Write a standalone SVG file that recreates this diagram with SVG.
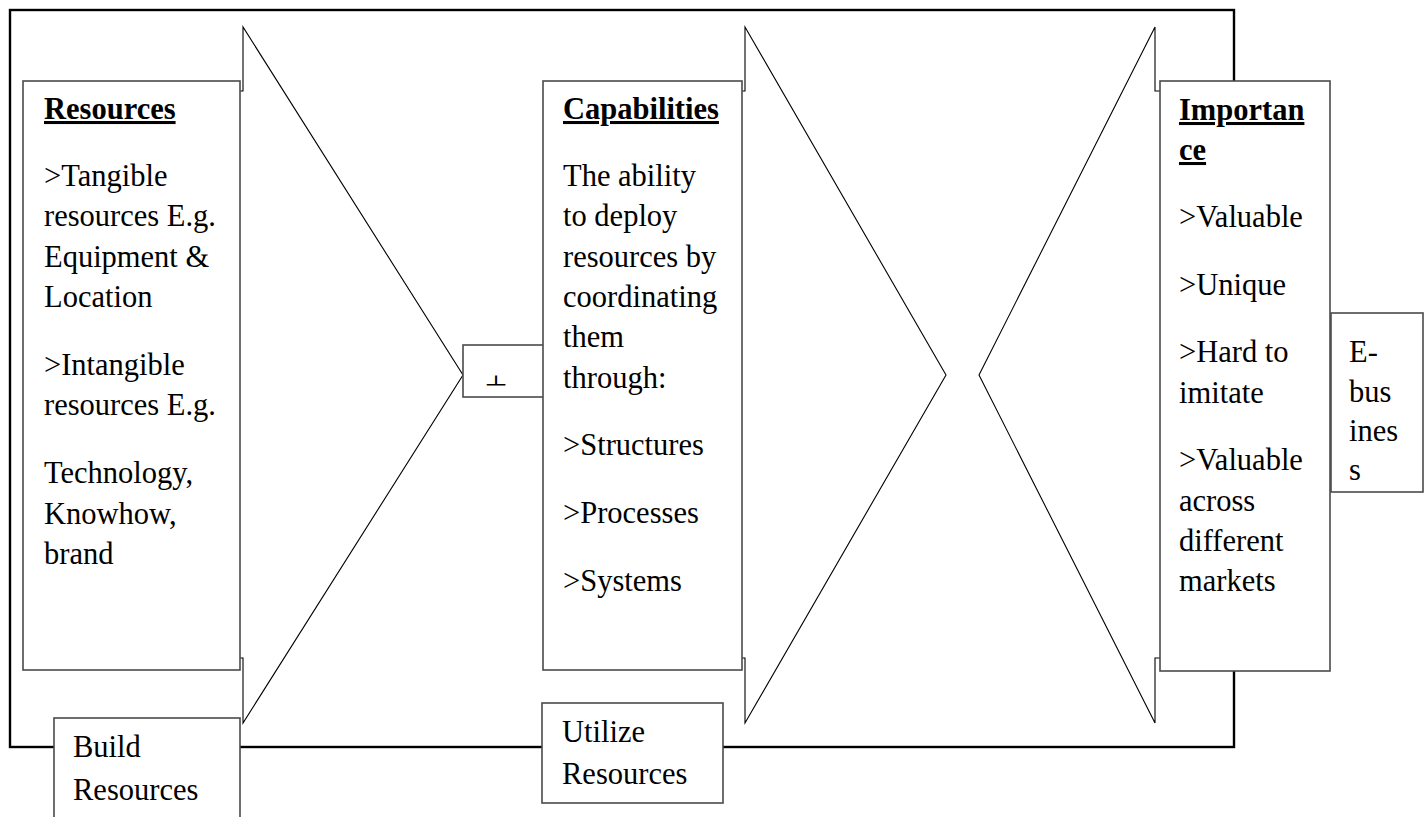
<svg xmlns="http://www.w3.org/2000/svg" width="1428" height="817" viewBox="0 0 1428 817">
<style>
  .box { fill: #ffffff; stroke: #4a4a4a; stroke-width: 1.6; }
  .arrow { fill: none; stroke: #000000; stroke-width: 1.1; }
  .frame { fill: none; stroke: #000000; stroke-width: 2.4; }
  .t { font-family: 'Liberation Serif', 'DejaVu Serif', serif; font-size: 30.5px; fill: #000000; }
  .title { font-weight: bold; text-decoration: underline; }
</style>
<defs>
  <clipPath id="plusClip"><rect x="470" y="360" width="60" height="25.5"/></clipPath>
</defs>
<rect width="1428" height="817" fill="#ffffff"/>

<g id="connectors">
  <rect class="frame" x="10" y="10" width="1224" height="737"/>
</g>

<g id="node-resources" class="t" font-family="Liberation Serif, serif">
  <path class="arrow" d="M240,91 H243 V27 L463,375 L243,723 V658 H240"/>
  <rect class="box" x="23" y="81" width="217" height="589"/>
  <text class="title" x="44" y="119">Resources</text>
  <text x="44" y="186">&gt;Tangible</text>
  <text x="44" y="226">resources E.g.</text>
  <text x="44" y="266.5">Equipment &amp;</text>
  <text x="44" y="307">Location</text>
  <text x="44" y="375">&gt;Intangible</text>
  <text x="44" y="415">resources E.g.</text>
  <text x="44" y="483">Technology,</text>
  <text x="44" y="523.5">Knowhow,</text>
  <text x="44" y="564">brand</text>
</g>

<g id="node-plus" class="t" font-family="Liberation Serif, serif">
  <rect class="box" x="463" y="345" width="81" height="52"/>
  <text x="496" y="398" text-anchor="middle" clip-path="url(#plusClip)" style="font-size:40px">+</text>
</g>

<g id="node-capabilities" class="t" font-family="Liberation Serif, serif">
  <path class="arrow" d="M742,91 H745 V27 L946,375 L745,723 V658 H742"/>
  <rect class="box" x="543" y="81" width="199" height="589"/>
  <text class="title" x="563" y="119">Capabilities</text>
  <text x="563" y="186">The ability</text>
  <text x="563" y="226">to deploy</text>
  <text x="563" y="266.5">resources by</text>
  <text x="563" y="307">coordinating</text>
  <text x="563" y="347">them</text>
  <text x="563" y="387.5">through:</text>
  <text x="563" y="455">&gt;Structures</text>
  <text x="563" y="523">&gt;Processes</text>
  <text x="563" y="591">&gt;Systems</text>
</g>

<g id="node-importance" class="t" font-family="Liberation Serif, serif">
  <path class="arrow" d="M1160,91 H1155 V27 L979,375 L1155,723 V658 H1160"/>
  <rect class="box" x="1160" y="81" width="170" height="590"/>
  <text class="title" x="1179" y="120">Importan</text>
  <text class="title" x="1179" y="160">ce</text>
  <text x="1179" y="227">&gt;Valuable</text>
  <text x="1179" y="295">&gt;Unique</text>
  <text x="1179" y="362">&gt;Hard to</text>
  <text x="1179" y="402.5">imitate</text>
  <text x="1179" y="470">&gt;Valuable</text>
  <text x="1179" y="510.5">across</text>
  <text x="1179" y="551">different</text>
  <text x="1179" y="591">markets</text>
</g>

<g id="node-ebusiness" class="t" font-family="Liberation Serif, serif">
  <rect class="box" x="1331" y="313" width="92" height="179"/>
  <text x="1349" y="362">E-</text>
  <text x="1349" y="402">bus</text>
  <text x="1349" y="441">ines</text>
  <text x="1349" y="480">s</text>
</g>

<g id="node-build" class="t" font-family="Liberation Serif, serif">
  <rect class="box" x="54" y="718" width="186" height="110"/>
  <text x="73" y="757">Build</text>
  <text x="73" y="800">Resources</text>
</g>

<g id="node-utilize" class="t" font-family="Liberation Serif, serif">
  <rect class="box" x="542" y="703" width="181" height="100"/>
  <text x="562" y="742">Utilize</text>
  <text x="562" y="784">Resources</text>
</g>
</svg>
